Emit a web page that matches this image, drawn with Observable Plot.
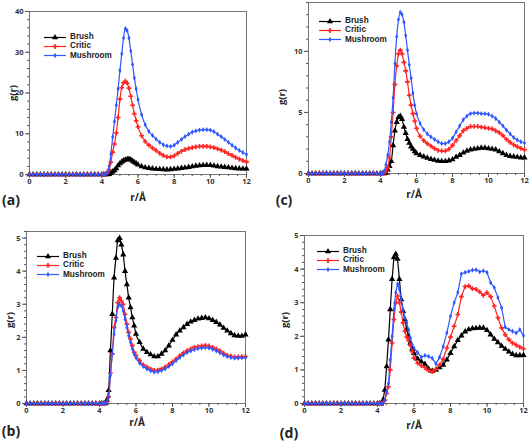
<!DOCTYPE html>
<html>
<head>
<meta charset="utf-8">
<script src="https://cdn.jsdelivr.net/npm/d3@7"></script>
<script src="https://cdn.jsdelivr.net/npm/@observablehq/plot@0.6"></script>
<style>
  body { margin: 0; background: #fff; }
  #root { position: relative; width: 529px; height: 441px; font-family: "Open Sans", sans-serif; font-weight: 700; color: #222; }
  .lbl { position: absolute; white-space: nowrap; transform: translate(-50%, -50%); line-height: 1; }
  .panel { position: absolute; }
  .leg { position: absolute; display: flex; align-items: center; font-family: "Liberation Sans", sans-serif; font-size: 8.2px; height: 9px; line-height: 1; }
</style>
</head>
<body>
<div id="root"></div>
<script>
// ---- data ----
const r = [0,0.2,0.4,0.6,0.8,1,1.2,1.4,1.6,1.8,2,2.2,2.4,2.6,2.8,3,3.2,3.4,3.6,3.8,4,
  4.1,4.2,4.3,4.4,4.5,4.6,4.7,4.8,4.9,5,5.1,5.2,5.3,5.4,5.5,5.6,5.7,5.8,5.9,6,
  6.2,6.4,6.6,6.8,7,7.2,7.4,7.6,7.8,8,8.2,8.4,8.6,8.8,9,9.2,9.4,9.6,9.8,10,10.2,10.4,10.6,10.8,11,11.2,11.4,11.6,11.8,12];

const seriesNames = ["Brush", "Critic", "Mushroom"];
const xTicks = [0, 2, 4, 6, 8, 10, 12];

// panel (a)
const aBrush = [0,0,0,0,0,0,0,0,0,0,0,0,0,0,0,0,0,0,0,0,0,
  0,0,0,0.1,0.4,0.7,1.0,1.5,2.2,2.7,3.1,3.4,3.6,3.7,3.8,3.6,3.3,3.0,2.7,2.4,
  2.0,1.7,1.55,1.45,1.35,1.3,1.25,1.2,1.25,1.35,1.45,1.55,1.65,1.8,1.95,2.1,2.2,2.25,2.3,2.25,2.15,2.0,1.9,1.8,1.7,1.6,1.5,1.45,1.4,1.4];
const aCritic = [0,0,0,0,0,0,0,0,0,0,0,0,0,0,0,0,0,0,0,0,0,
  0,0.1,0.4,1.2,3,5.5,7.5,10.2,14,18.5,21.3,22.5,22.9,22.4,21.2,19.2,17,14.9,13.2,11.7,
  9.5,8.1,7.2,6.5,5.9,5.2,4.7,4.3,4.3,4.6,5.2,5.7,6.1,6.4,6.6,6.8,6.9,6.9,6.9,6.8,6.6,6.3,6.0,5.6,5.1,4.7,4.2,3.8,3.4,3.1];
const aMushroom = [0,0,0,0,0,0,0,0,0,0,0,0,0,0,0,0,0,0,0,0,0,
  0,0.1,0.5,2,5,9.2,13,17,21,25.5,29.6,33.5,35.8,35.3,33.5,30.3,27,23.7,21,18.4,
  14.7,12.2,10.6,9.6,8.7,7.9,7.3,7.0,6.9,7.2,7.9,8.6,9.3,9.9,10.4,10.7,10.9,11.0,11.0,10.9,10.5,9.9,9.3,8.6,7.9,7.2,6.5,5.9,5.4,4.9];
const aYTicks = [0, 10, 20, 30, 40];

// panel (c)
const cBrush = [0,0,0,0,0,0,0,0,0,0,0,0,0,0,0,0,0,0,0,0,0,
  0,0,0.05,0.3,0.6,1.0,2.3,3.5,4.2,4.6,4.7,4.45,3.8,3.3,2.8,2.5,2.2,2.0,1.8,1.65,
  1.5,1.38,1.28,1.18,1.1,1.03,1.0,1.0,1.05,1.15,1.35,1.5,1.7,1.85,1.95,2.0,2.05,2.1,2.1,2.05,2.0,1.95,1.8,1.65,1.5,1.42,1.38,1.35,1.3,1.3];
const cCritic = [0,0,0,0,0,0,0,0,0,0,0,0,0,0,0,0,0,0,0,0,0,
  0,0.05,0.2,0.5,1.3,3.0,5.0,7.3,8.8,9.8,10.1,9.8,9.1,8.4,7.5,6.4,5.6,4.9,4.3,3.7,
  3.05,2.7,2.45,2.25,2.05,1.9,1.85,1.85,2.0,2.3,2.7,3.1,3.5,3.7,3.85,3.85,3.85,3.8,3.75,3.7,3.65,3.5,3.35,3.1,2.8,2.55,2.35,2.2,2.05,1.95];
const cMushroom = [0,0,0,0,0,0,0,0,0,0,0,0,0,0,0,0,0,0,0,0,0,
  0,0.2,0.7,1.5,2.6,4.2,6.2,9.0,11.2,12.6,13.2,13.0,12.4,11.3,10.1,8.9,7.8,6.6,5.6,4.9,
  4.1,3.6,3.25,3.0,2.8,2.6,2.45,2.45,2.6,2.9,3.4,3.9,4.4,4.7,4.9,4.95,4.95,4.9,4.9,4.85,4.7,4.5,4.2,3.9,3.55,3.25,2.95,2.75,2.6,2.5];
const cYTicks = [0, 5, 10];

// panel (b)
const bBrush = [0,0,0,0,0,0,0,0,0,0,0,0,0,0,0,0,0,0,0,0,0,
  0,0,0,0.1,0.4,1.6,2.7,3.8,4.4,4.93,5.0,4.8,4.5,4.0,3.6,3.2,2.9,2.6,2.35,2.1,
  1.85,1.65,1.55,1.48,1.42,1.42,1.5,1.6,1.75,1.92,2.08,2.2,2.3,2.4,2.47,2.52,2.56,2.58,2.6,2.57,2.52,2.46,2.38,2.28,2.2,2.12,2.06,2.04,2.04,2.08];
const bCritic = [0,0,0,0,0,0,0,0,0,0,0,0,0,0,0,0,0,0,0,0,0,
  0,0,0,0.05,0.2,0.92,1.5,2.3,2.6,3.05,3.2,3.1,3.0,2.7,2.4,2.15,1.95,1.75,1.55,1.45,
  1.3,1.17,1.1,1.04,1.0,1.01,1.05,1.1,1.18,1.26,1.35,1.45,1.53,1.6,1.65,1.7,1.72,1.74,1.76,1.74,1.7,1.65,1.59,1.52,1.46,1.43,1.41,1.41,1.42,1.42];
const bMushroom = [0,0,0,0,0,0,0,0,0,0,0,0,0,0,0,0,0,0,0,0,0,
  0,0,0,0.05,0.2,0.85,1.5,2.1,2.5,2.9,3.0,2.95,2.8,2.55,2.3,2.05,1.85,1.65,1.5,1.38,
  1.22,1.12,1.04,0.99,0.95,0.96,1.0,1.05,1.12,1.2,1.3,1.39,1.47,1.54,1.59,1.63,1.66,1.68,1.69,1.68,1.64,1.59,1.53,1.47,1.42,1.39,1.37,1.37,1.38,1.38];
const bYTicks = [0, 1, 2, 3, 4, 5];

// panel (d)
const dBrush = [0,0,0,0,0,0,0,0,0,0,0,0,0,0,0,0,0,0,0,0,0,
  0,0,0.1,0.4,1.1,1.9,2.8,3.7,4.35,4.45,4.3,3.7,3.1,2.75,2.5,2.2,2.0,1.8,1.62,1.5,
  1.33,1.25,1.17,1.03,0.97,1.0,1.07,1.15,1.3,1.5,1.7,1.88,2.02,2.14,2.2,2.23,2.24,2.25,2.25,2.18,2.05,1.92,1.82,1.71,1.62,1.54,1.47,1.43,1.43,1.44];
const dCritic = [0,0,0,0,0,0,0,0,0,0,0,0,0,0,0,0,0,0,0,0,0,
  0,0,0,0.1,0.3,0.5,1.0,1.8,2.5,3.0,3.2,3.0,2.72,2.4,2.15,1.98,1.88,1.73,1.55,1.35,
  1.2,1.13,1.07,0.98,0.95,1.02,1.15,1.32,1.65,1.98,2.3,2.65,3.18,3.48,3.5,3.42,3.4,3.32,3.22,3.3,3.18,2.9,2.55,2.25,2.05,1.9,1.8,1.74,1.68,1.63];
const dMushroom = [0,0,0,0,0,0,0,0,0,0,0,0,0,0,0,0,0,0,0,0,0,
  0,0,0,0.1,0.35,0.6,1.3,2.0,2.8,3.3,3.56,3.4,3.1,2.8,2.55,2.4,2.2,1.95,1.75,1.65,
  1.52,1.38,1.43,1.4,1.35,1.18,1.38,1.7,2.1,2.6,3.0,3.3,3.86,3.9,3.93,3.97,3.98,3.92,3.95,3.9,3.6,3.45,3.15,2.85,2.27,2.2,2.15,2.1,2.2,2.02];
const dYTicks = [0, 1, 2, 3, 4, 5];

// ---- styles ----
const colors = {Brush: "#000000", Critic: "#ff2424", Mushroom: "#2f57ff"};
const symbols = {Brush: "triangle", Critic: "cross", Mushroom: "diamond"};
const sizes = {Brush: 2.3, Critic: 2.0, Mushroom: 1.6};

const panels = [
  {tag: "(a)", left: 0, top: 0, w: 264, h: 220, m: [11, 18, 46, 29], yMax: 40, yTicks: aYTicks, yMinor: 2,
   data: [aBrush, aCritic, aMushroom], legend: [44, 37], yLab: [13, 93], xLab: [138, 197], tagPos: [11, 200]},
  {tag: "(c)", left: 264, top: 0, w: 265, h: 220, m: [2, 5, 47, 44], yMax: 14, yTicks: cYTicks, yMinor: 1,
   data: [cBrush, cCritic, cMushroom], legend: [319, 21], yLab: [282, 97], xLab: [414, 194], tagPos: [284, 200]},
  {tag: "(b)", left: 0, top: 220, w: 264, h: 221, m: [11, 19, 38, 26], yMax: 5.2, yTicks: bYTicks, yMinor: 0.2,
   data: [bBrush, bCritic, bMushroom], legend: [37, 256], yLab: [10, 320], xLab: [137, 422], tagPos: [11, 431]},
  {tag: "(d)", left: 264, top: 220, w: 265, h: 221, m: [15, 6, 38, 40], yMax: 5, yTicks: dYTicks, yMinor: 0.2,
   data: [dBrush, dCritic, dMushroom], legend: [317, 251], yLab: [285, 320], xLab: [414, 425], tagPos: [289, 433]},
];

const root = document.getElementById("root");

function addLabel(text, pos, size, rotate) {
  const d = document.createElement("div");
  d.className = "lbl";
  d.textContent = text;
  d.style.left = pos[0] + "px";
  d.style.top = pos[1] + "px";
  d.style.fontSize = size + "px";
  if (rotate) d.style.transform = "translate(-50%, -50%) rotate(-90deg)";
  root.appendChild(d);
}

const symbolMap = {triangle: d3.symbolTriangle, cross: d3.symbolCross, diamond: d3.symbolDiamond};

for (const p of panels) {
  const marks = [
    Plot.frame({stroke: "#555", strokeWidth: 0.8}),
    Plot.axisX(d3.range(0, 12.01, 0.5), {tickSize: 2, tickFormat: () => "", label: null, stroke: "#555"}),
    Plot.axisX(xTicks, {tickSize: 4, tickPadding: 0, label: null, stroke: "#555", fill: "#333"}),
    Plot.axisY(d3.range(0, p.yMax + 1e-9, p.yMinor), {tickSize: 2, tickFormat: () => "", label: null, stroke: "#555"}),
    Plot.axisY(p.yTicks, {tickSize: 4, tickPadding: 2, label: null, stroke: "#555", fill: "#333"}),
  ];
  seriesNames.forEach((name, i) => {
    const vals = p.data[i];
    const rows = r.map((x, j) => ({r: x, g: vals[j]}));
    marks.push(Plot.line(rows, {x: "r", y: "g", stroke: colors[name], strokeWidth: 1.2, curve: p.tag === "(d)" ? "linear" : "monotone-x"}));
    marks.push(Plot.dot(rows, {x: "r", y: "g", fill: colors[name], stroke: "none", symbol: symbols[name], r: sizes[name]}));
  });
  const chart = Plot.plot({
    width: p.w, height: p.h,
    marginTop: p.m[0], marginRight: p.m[1], marginBottom: p.m[2], marginLeft: p.m[3],
    x: {domain: [0, 12]},
    y: {domain: [0, p.yMax]},
    style: {fontFamily: "'Open Sans', sans-serif", fontSize: "7.5px", fontWeight: 700, background: "transparent", overflow: "visible"},
    marks
  });
  const wrap = document.createElement("div");
  wrap.className = "panel";
  wrap.style.left = p.left + "px";
  wrap.style.top = p.top + "px";
  wrap.appendChild(chart);
  root.appendChild(wrap);

  addLabel("g(r)", p.yLab, 9.5, true);
  addLabel("r/Å", p.xLab, 10);
  addLabel(p.tag, p.tagPos, 14);

  // legend
  seriesNames.forEach((name, i) => {
    const row = document.createElement("div");
    row.className = "leg";
    row.style.left = p.legend[0] + "px";
    row.style.top = (p.legend[1] + i * 9.4 - 4.5) + "px";
    const svg = d3.create("svg").attr("width", 26).attr("height", 9);
    svg.append("line").attr("x1", 0).attr("x2", 22).attr("y1", 4.5).attr("y2", 4.5)
      .attr("stroke", colors[name]).attr("stroke-width", 1.2);
    svg.append("path").attr("transform", "translate(11,4.5)")
      .attr("d", d3.symbol(symbolMap[symbols[name]], Math.PI * sizes[name] * sizes[name])())
      .attr("fill", colors[name]);
    row.appendChild(svg.node());
    const t = document.createElement("span");
    t.textContent = name;
    row.appendChild(t);
    root.appendChild(row);
  });
}
</script>
</body>
</html>
